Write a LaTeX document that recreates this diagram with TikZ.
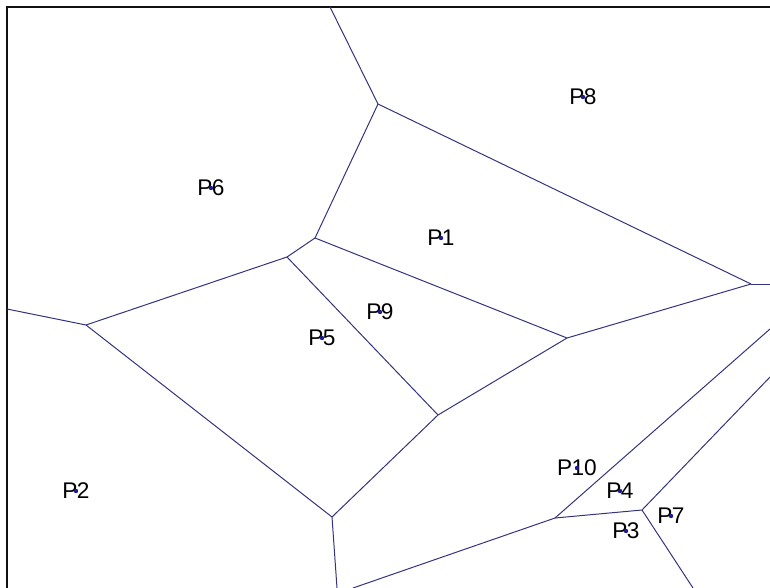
\documentclass[tikz,border=0pt]{standalone}
\usepackage{fontspec}
\setmainfont{Liberation Sans}
\definecolor{vrnavy}{HTML}{34347E}
\definecolor{vrdot}{HTML}{1C1C8A}
\definecolor{vrframe}{HTML}{111111}

\begin{document}
\begin{tikzpicture}[x=0.75pt, y=-0.75pt,
  vedge/.style={draw=vrnavy, line width=0.75pt},
  sitelabel/.style={inner sep=0pt, text=black, font=\fontsize{17}{17}\selectfont},
  sitedot/.style={fill=vrdot}]
  \useasboundingbox (0,0) rectangle (770,588);
  % frame
  \coordinate (fbl) at (7,588);
  \coordinate (ftl) at (7,7);
  \coordinate (ftr) at (770,7);
  \draw[draw=vrframe, line width=1.5pt] (fbl) -- (ftl) -- (ftr);
  % voronoi vertices
  \coordinate (va) at (378,104);
  \coordinate (vb) at (315,238);
  \coordinate (vc) at (751,284);
  \coordinate (vd) at (287,257);
  \coordinate (ve) at (567,338);
  \coordinate (vf) at (86,325);
  \coordinate (vg) at (438,415);
  \coordinate (vh) at (332,517);
  \coordinate (vi) at (555,518);
  \coordinate (vj) at (642,510);
  % open ends on the border
  \coordinate (top1) at (330,7);
  \coordinate (left1) at (7,309);
  \coordinate (right1) at (770,284);
  \coordinate (right2) at (770,329);
  \coordinate (right3) at (770,377);
  \coordinate (bot1) at (337,588);
  \coordinate (bot2) at (353,588);
  \coordinate (bot3) at (693,588);
  % edges
  \draw[vedge] (top1) -- (va);
  \draw[vedge] (va) -- (vb);
  \draw[vedge] (va) -- (vc);
  \draw[vedge] (vc) -- (right1);
  \draw[vedge] (vb) -- (vd);
  \draw[vedge] (vb) -- (ve);
  \draw[vedge] (ve) -- (vc);
  \draw[vedge] (vd) -- (vf);
  \draw[vedge] (vf) -- (left1);
  \draw[vedge] (vd) -- (vg);
  \draw[vedge] (vg) -- (ve);
  \draw[vedge] (vf) -- (vh);
  \draw[vedge] (vh) -- (vg);
  \draw[vedge] (vh) -- (bot1);
  \draw[vedge] (bot2) -- (vi);
  \draw[vedge] (vi) -- (vj);
  \draw[vedge] (vi) -- (right2);
  \draw[vedge] (vj) -- (right3);
  \draw[vedge] (vj) -- (bot3);
  % sites
  \node[sitelabel] (p1) at (441,238) {P\kern-0.5pt1};
  \node[sitelabel] (p2) at (76,491) {P\kern-0.5pt2};
  \node[sitelabel] (p3) at (626,531) {P\kern-0.5pt3};
  \node[sitelabel] (p4) at (620,491) {P\kern-0.5pt4};
  \node[sitelabel] (p5) at (322,338) {P\kern-0.5pt5};
  \node[sitelabel] (p6) at (211,188) {P\kern-0.5pt6};
  \node[sitelabel] (p7) at (671,516) {P\kern-0.5pt7};
  \node[sitelabel] (p8) at (583,97) {P\kern-0.5pt8};
  \node[sitelabel] (p9) at (380,312) {P\kern-0.5pt9};
  \node[sitelabel] (p10) at (577,468) {P\kern-0.5pt10};
  \fill[sitedot] (p1) circle (2.2);
  \fill[sitedot] (p2) circle (2.2);
  \fill[sitedot] (p3) circle (2.2);
  \fill[sitedot] (p4) circle (2.2);
  \fill[sitedot] (p5) circle (2.2);
  \fill[sitedot] (p6) circle (2.2);
  \fill[sitedot] (p7) circle (2.2);
  \fill[sitedot] (p8) circle (2.2);
  \fill[sitedot] (p9) circle (2.2);
  \fill[sitedot] (p10) circle (2.2);
\end{tikzpicture}
\end{document}
